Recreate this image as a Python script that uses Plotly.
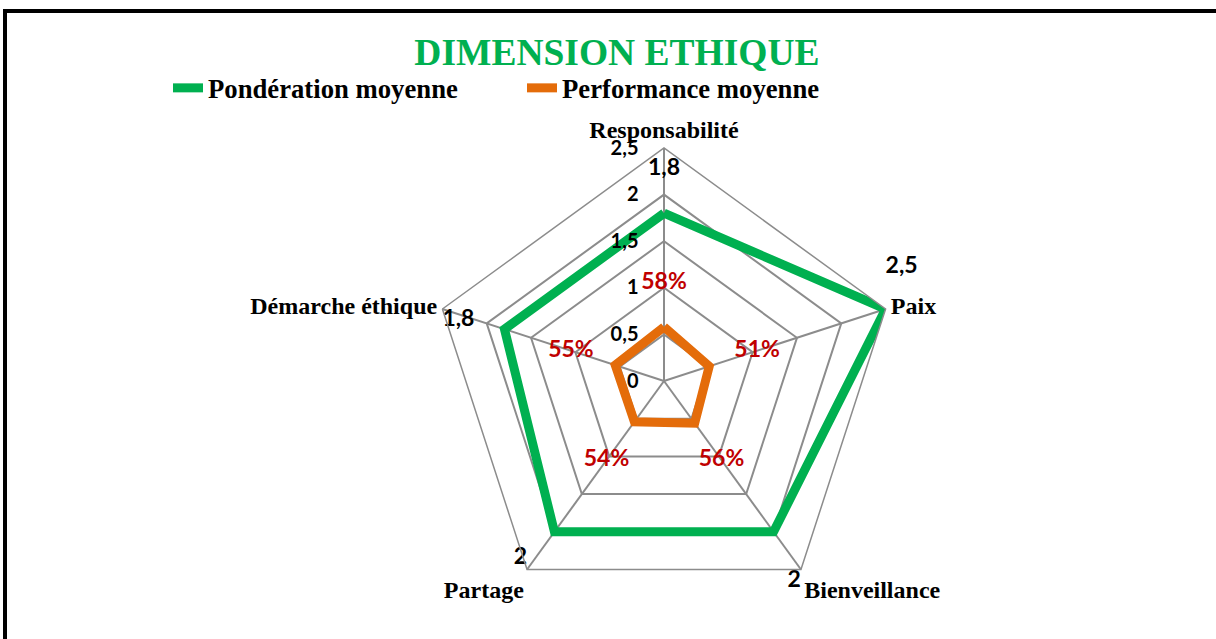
import plotly.graph_objects as go

categories = ["Responsabilité", "Paix", "Bienveillance", "Partage", "Démarche éthique"]
ponderation = [1.8, 2.5, 2.0, 2.0, 1.8]
performance = [0.58, 0.51, 0.56, 0.54, 0.55]
radial_ticks = [0, 0.5, 1, 1.5, 2, 2.5]

# label placement (positions/styles, not data)
green_label_r = [2.27, 2.5, 2.5, 2.5, 2.5]
green_label_pos = ["middle center", "top right", "bottom left", "top left", "bottom right"]
green_label_extra_line = [False, True, False, False, False]
pct_label_r = 1.05

GREEN = "#00B050"
ORANGE = "#E46C0A"
RED = "#C00000"
GRID = "#8C8C8C"

def closed(v):
    return list(v) + [v[0]]

fig = go.Figure()
fig.add_trace(go.Scatterpolar(
    r=closed(ponderation), theta=closed(categories), mode="lines",
    name="Pondération moyenne", line=dict(color=GREEN, width=9)))
fig.add_trace(go.Scatterpolar(
    r=closed(performance), theta=closed(categories), mode="lines",
    name="Performance moyenne", line=dict(color=ORANGE, width=9)))

green_text = [f"{v:g}".replace(".", ",") + ("<br>\u00a0" if extra else "")
              for v, extra in zip(ponderation, green_label_extra_line)]
fig.add_trace(go.Scatterpolar(
    r=green_label_r, theta=categories, mode="text",
    text=green_text, textposition=green_label_pos, cliponaxis=False,
    textfont=dict(family="Lato", size=23, color="black", weight="bold"),
    showlegend=False, hoverinfo="skip"))

pct_text = [f"{round(v*100)}%" for v in performance]
fig.add_trace(go.Scatterpolar(
    r=[pct_label_r] * len(categories), theta=categories, mode="text",
    text=pct_text, textposition="middle center", cliponaxis=False,
    textfont=dict(family="Lato", size=23, color=RED, weight="bold"),
    showlegend=False, hoverinfo="skip"))

fig.update_layout(
    width=1216, height=639,
    margin=dict(l=0, r=0, t=0, b=0),
    paper_bgcolor="white", plot_bgcolor="white",
    separators=",.",
    title=dict(text="DIMENSION ETHIQUE", x=0.5074, xanchor="center",
               y=1 - 52/639, yanchor="middle",
               font=dict(family="Liberation Serif", size=37.5, color=GREEN, weight="bold")),
    legend=dict(orientation="h", x=168/1216, xanchor="left", y=1 - 88/639, yanchor="middle",
                font=dict(family="Liberation Serif", size=26.7, color="black", weight="bold"),
                entrywidth=309, bgcolor="rgba(0,0,0,0)"),
    polar=dict(
        domain=dict(x=[(664-233)/1216, (664+233)/1216], y=[(639-614)/639, (639-148)/639]),
        gridshape="linear",
        bgcolor="white",
        radialaxis=dict(range=[0, 2.5], tickvals=radial_ticks, angle=90, tickangle=90,
                        side="counterclockwise", showline=False,
                        ticks="outside", ticklen=18, tickcolor="rgba(0,0,0,0)",
                        gridcolor=GRID, gridwidth=1.5,
                        tickfont=dict(family="Lato", size=20, color="black", weight="bold")),
        angularaxis=dict(direction="clockwise", rotation=90, categoryorder="array",
                         categoryarray=categories,
                         showline=True, linecolor=GRID, linewidth=1.5,
                         gridcolor=GRID, gridwidth=1.5, ticks="",
                         tickfont=dict(family="Liberation Serif", size=24, color="black", weight="bold")),
    ),
    shapes=[dict(type="rect", xref="paper", yref="paper",
                 x0=5/1216, x1=1.05, y0=-0.05, y1=1 - 11/639,
                 line=dict(color="black", width=4), fillcolor="rgba(0,0,0,0)", layer="above")],
)

fig.write_html("out.html", config={"displayModeBar": False},
               post_script="document.body.style.margin='0px';")
